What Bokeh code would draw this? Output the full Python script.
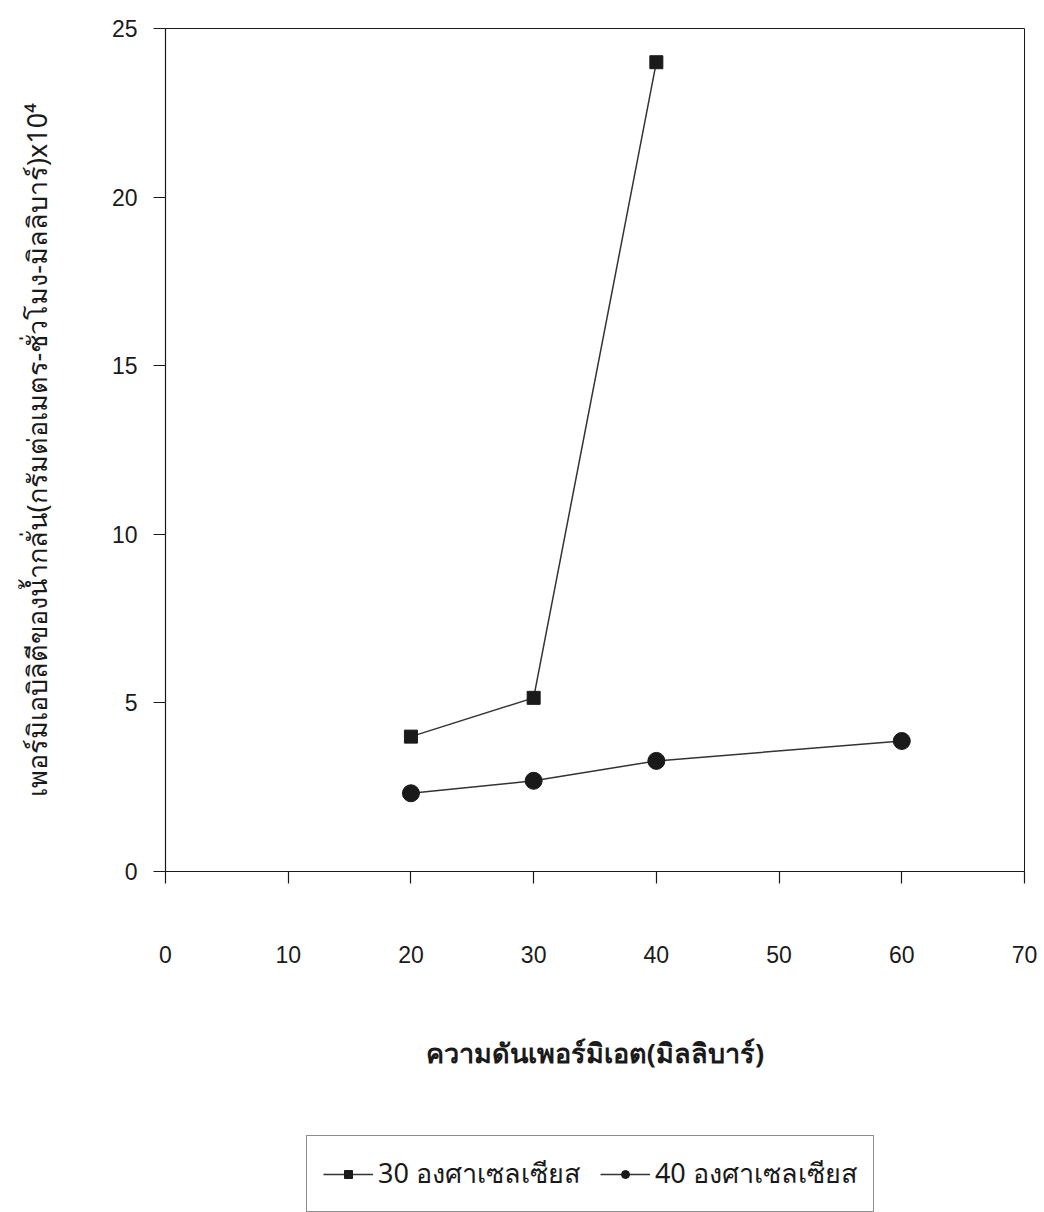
from bokeh.plotting import figure
from bokeh.layouts import column
from bokeh.models import Range1d, FixedTicker, Legend, LegendItem
from bokeh.embed import file_html
from bokeh.resources import INLINE

# Data
pressure_30 = [20, 30, 40]
perm_30 = [4.0, 5.15, 24.0]
pressure_40 = [20, 30, 40, 60]
perm_40 = [2.32, 2.69, 3.28, 3.87]
x_ticks = [0, 10, 20, 30, 40, 50, 60, 70]
y_ticks = [0, 5, 10, 15, 20, 25]
series_names = ["30 องศาเซลเซียส", "40 องศาเซลเซียส"]
x_title = "ความดันเพอร์มิเอต(มิลลิบาร์)"
y_title = "เพอร์มิเอบิลิตีของน้ำกลั่น(กรัมต่อเมตร-ชั่วโมง-มิลลิบาร์)x10⁴"

INK = "#1a1a1a"

p = figure(width=1044, height=1135, output_backend="svg", toolbar_location=None,
           x_range=Range1d(0, 70), y_range=Range1d(0, 25),
           min_border_left=165, min_border_right=20, min_border_top=28,
           min_border_bottom=264)

p.grid.visible = False
p.outline_line_color = INK
p.outline_line_width = 1
p.background_fill_color = "white"
p.border_fill_color = "white"

for ax in (p.xaxis[0], p.yaxis[0]):
    ax.axis_line_color = INK
    ax.axis_line_width = 1.2
    ax.major_tick_line_color = INK
    ax.major_tick_line_width = 1.2
    ax.major_tick_out = 12
    ax.major_tick_in = 0
    ax.minor_tick_line_color = None
    ax.major_label_text_font = "Liberation Sans"
    ax.major_label_text_font_size = "23px"
    ax.major_label_text_color = INK

p.xaxis.ticker = FixedTicker(ticks=x_ticks)
p.yaxis.ticker = FixedTicker(ticks=y_ticks)
p.xaxis.major_label_standoff = 62
p.yaxis.major_label_standoff = 16

p.xaxis.axis_label = x_title
p.xaxis.axis_label_text_font = "Noto Sans"
p.xaxis.axis_label_text_font_style = "bold"
p.xaxis.axis_label_text_font_size = "27px"
p.xaxis.axis_label_text_color = INK
p.xaxis.axis_label_standoff = 68

p.yaxis.axis_label = y_title
p.yaxis.axis_label_text_font = "Noto Sans"
p.yaxis.axis_label_text_font_style = "normal"
p.yaxis.axis_label_text_font_size = "27px"
p.yaxis.axis_label_text_color = INK
p.yaxis.axis_label_standoff = 54

p.line(pressure_30, perm_30, line_color="#333333", line_width=1.5)
p.scatter(pressure_30, perm_30, marker="square", size=13,
          fill_color=INK, line_color=INK)
p.line(pressure_40, perm_40, line_color="#333333", line_width=1.5)
p.scatter(pressure_40, perm_40, marker="circle", size=17,
          fill_color=INK, line_color=INK)

# Legend strip below the chart (legend keys only, nothing plotted here)
q = figure(width=1044, height=77, output_backend="svg", toolbar_location=None,
           x_axis_type=None, y_axis_type=None,
           x_range=Range1d(0, 1), y_range=Range1d(0, 1),
           min_border_left=0, min_border_right=0, min_border_top=0,
           min_border_bottom=0)
q.grid.visible = False
q.outline_line_color = None
q.background_fill_color = "white"
q.border_fill_color = "white"
nan = [float("nan")]
k1l = q.line(nan, nan, line_color="#333333", line_width=1.5)
k1m = q.scatter(nan, nan, marker="square", size=10, fill_color=INK, line_color=INK)
k2l = q.line(nan, nan, line_color="#333333", line_width=1.5)
k2m = q.scatter(nan, nan, marker="circle", size=14, fill_color=INK, line_color=INK)

legend = Legend(items=[LegendItem(label=series_names[0], renderers=[k1l, k1m]),
                       LegendItem(label=series_names[1], renderers=[k2l, k2m])],
                location=(141, 0), orientation="horizontal",
                label_text_font="Noto Sans", label_text_font_size="27px",
                label_text_color=INK, label_height=40,
                glyph_width=50, glyph_height=20, label_standoff=5, spacing=20,
                padding=16, margin=0,
                border_line_color=INK, border_line_width=1.2,
                background_fill_color="white", background_fill_alpha=1.0)
q.add_layout(legend, "center")

open("out.html", "w").write(file_html(column(p, q, spacing=0), INLINE))
